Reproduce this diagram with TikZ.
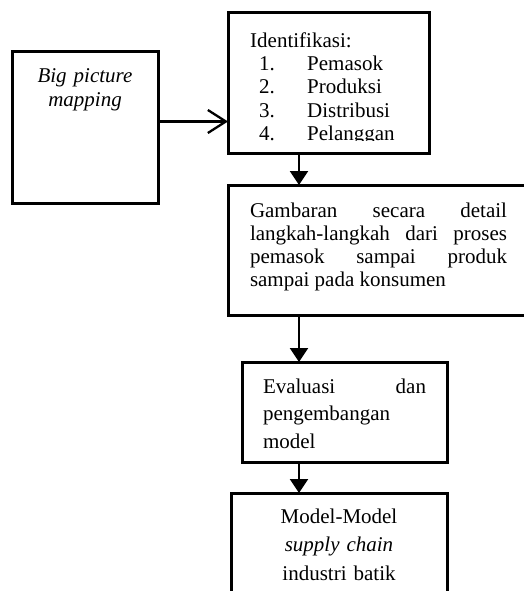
\documentclass[tikz,border=0pt]{standalone}
\usepackage{fontspec}
\setmainfont{Liberation Serif}
\usetikzlibrary{arrows.meta}

\begin{document}
\begin{tikzpicture}[x=1pt, y=-1pt,
  box/.style={draw, line width=3pt, rectangle, anchor=north west, inner ysep=0pt, outer sep=0pt, font=\fontsize{21}{23.3}\selectfont},
  openarr/.style={line width=2.3pt, -{Straight Barb[length=18pt,width=23pt]}},
  downarr/.style={line width=2.3pt, -{Triangle[length=14pt,width=18pt]}}]
  \useasboundingbox (0,0) rectangle (524,591);
  \clip (0,0) rectangle (524,591);

  % States
  \node (bigpic) at (12,52) [box, inner xsep=8pt, text width=130pt, align=center, text height=31pt, text depth=120pt] {\textit{Big picture}\\ \textit{mapping}};

  \node (ident) at (228,13) [box, inner xsep=0pt, minimum width=201pt, minimum height=140pt] {};
  \begin{scope}
    \clip (228,13) rectangle (429,140);
    \node (identtext) at (250,13) [anchor=north west, inner sep=0pt, text width=175pt, align=left, text height=34pt, font=\fontsize{21}{23.3}\selectfont]
      {Identifikasi:\\
       \hspace*{9pt}\makebox[48pt][l]{1.}Pemasok\\
       \hspace*{9pt}\makebox[48pt][l]{2.}Produksi\\
       \hspace*{9pt}\makebox[48pt][l]{3.}Distribusi\\
       \hspace*{9pt}\makebox[48pt][l]{4.}Pelanggan};
  \end{scope}

  \node (gambaran) at (228,185) [box, inner xsep=22pt, text width=257pt, align=justify, text height=32pt, text depth=98pt]
    {Gambaran \hfill secara \hfill detail\\ langkah-langkah \hfill dari \hfill proses\\ pemasok \hfill sampai \hfill produk\\ sampai pada konsumen};

  \node (evaluasi) at (242,362) [box, inner xsep=21pt, text width=163pt, align=justify, text height=31pt, text depth=69pt, font=\fontsize{21}{27.5}\selectfont]
    {Evaluasi \hfill dan\\ pengembangan\\ model};

  \node (model) at (231,493) [box, inner xsep=10pt, text width=196pt, align=center, text height=30pt, text depth=110pt, font=\fontsize{21}{28.5}\selectfont]
    {Model-Model\\ \textit{supply chain}\\ industri batik};

  % Edges
  \path ([yshift=6pt]bigpic.east) coordinate (mapout);
  \coordinate (spine) at (299,0);
  \draw[openarr] (mapout) -- (mapout -| ident.west);
  \draw[downarr] (ident.south -| spine) -- (gambaran.north -| spine);
  \draw[downarr] (gambaran.south -| spine) -- (evaluasi.north -| spine);
  \draw[downarr] (evaluasi.south -| spine) -- (model.north -| spine);
\end{tikzpicture}
\end{document}
